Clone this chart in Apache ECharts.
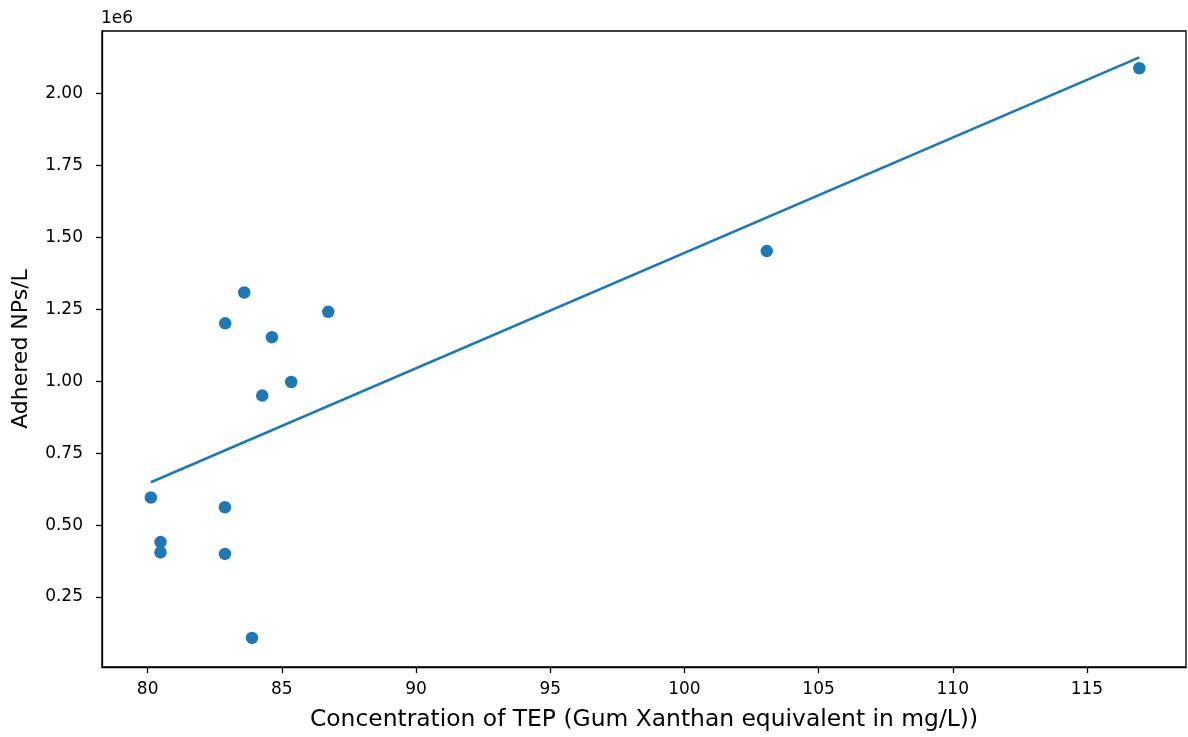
<!DOCTYPE html>
<html>
<head>
<meta charset="utf-8">
<script src="https://cdn.jsdelivr.net/npm/echarts@6/dist/echarts.min.js"></script>
<style>
  html, body { margin: 0; padding: 0; background: #fff; }
  #chart { width: 1188px; height: 737px; }
</style>
</head>
<body>
<div id="chart"></div>
<script>
// TEP concentration (mg/L Gum Xanthan equivalent) for each sample
const tepConc = [80.12, 80.48, 80.48, 82.88, 82.88, 83.89, 83.60, 82.89, 84.63, 86.73, 84.27, 85.35, 103.07, 116.95];
// Adhered nanoparticles per litre, in units of 1e6
const adheredNPs = [0.596, 0.441, 0.405, 0.562, 0.400, 0.108, 1.308, 1.201, 1.153, 1.241, 0.950, 0.997, 1.452, 2.087];
// Fitted trend line endpoints
const fitX = [80.12, 116.95];
const fitY = [0.649, 2.125];
// Tick positions
const xTicks = [80, 85, 90, 95, 100, 105, 110, 115];
const yTicks = [0.25, 0.50, 0.75, 1.00, 1.25, 1.50, 1.75, 2.00];

const blue = '#1f77b4';
const ink = '#000';
const font = 'DejaVu Sans';

const chart = echarts.init(document.getElementById('chart'), null, { renderer: 'canvas' });

chart.setOption({
  animation: false,
  backgroundColor: '#fff',
  textStyle: { fontFamily: font, color: ink },
  grid: {
    left: 102, top: 31, right: 2, bottom: 70,
    show: true, borderColor: ink, borderWidth: 1.3, backgroundColor: 'transparent'
  },
  graphic: [{
    type: 'text', left: 101, top: 10,
    style: { text: '1e6', font: '17px "DejaVu Sans"', fill: ink }
  }],
  xAxis: {
    type: 'value', min: 78.3, max: 118.69,
    name: 'Concentration of TEP (Gum Xanthan equivalent in mg/L))',
    nameLocation: 'middle', nameGap: 41,
    nameTextStyle: { fontSize: 23.4, color: ink, fontFamily: font },
    axisLine: { show: true, onZero: false, lineStyle: { color: ink, width: 1.3 } },
    axisTick: { show: true, inside: false, length: 6, customValues: xTicks, lineStyle: { color: ink, width: 1.3 } },
    axisLabel: { customValues: xTicks, fontSize: 17, color: ink, margin: 14, fontFamily: font },
    splitLine: { show: false }
  },
  yAxis: {
    type: 'value', min: 0.007, max: 2.2165,
    name: 'Adhered NPs/L',
    nameLocation: 'middle', nameGap: 70, nameRotate: 90,
    nameTextStyle: { fontSize: 22, color: ink, fontFamily: font },
    axisLine: { show: true, onZero: false, lineStyle: { color: ink, width: 1.3 } },
    axisTick: { show: true, inside: false, length: 6, customValues: yTicks, lineStyle: { color: ink, width: 1.3 } },
    axisLabel: {
      customValues: yTicks, fontSize: 17, color: ink, margin: 19, fontFamily: font,
      formatter: v => v.toFixed(2)
    },
    splitLine: { show: false }
  },
  series: [
    {
      type: 'line',
      data: fitX.map((x, i) => [x, fitY[i]]),
      showSymbol: false, symbol: 'none',
      lineStyle: { color: blue, width: 2.6 },
      z: 2
    },
    {
      type: 'scatter',
      data: tepConc.map((x, i) => [x, adheredNPs[i]]),
      symbol: 'circle', symbolSize: 12.5,
      itemStyle: { color: blue, opacity: 1 },
      z: 3
    }
  ]
});
</script>
</body>
</html>
